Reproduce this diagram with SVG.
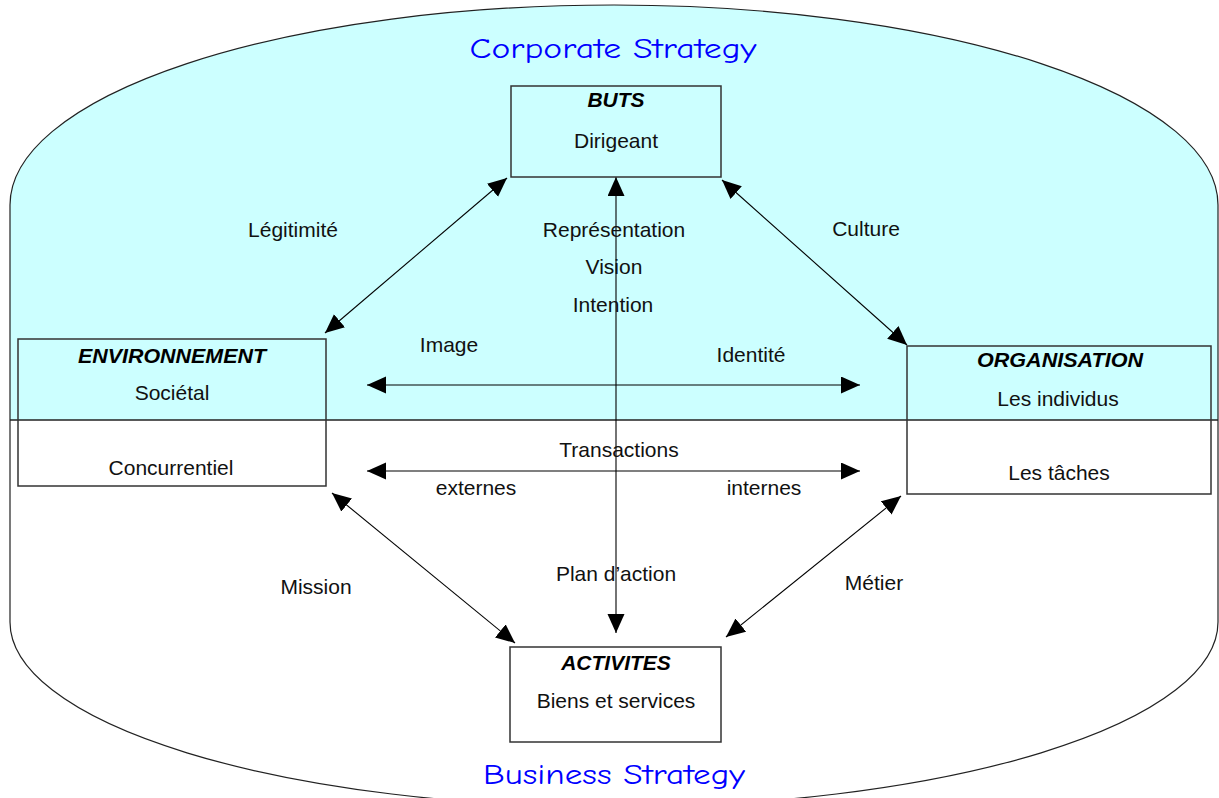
<svg xmlns="http://www.w3.org/2000/svg" width="1219" height="798" viewBox="0 0 1219 798">
<style>
.lbl{font-family:"Liberation Sans",Arial,sans-serif;font-size:21px;fill:#111;text-anchor:middle}
.hd{font-family:"Liberation Sans",Arial,sans-serif;font-size:21px;font-weight:bold;font-style:italic;fill:#000;text-anchor:middle}
.ttl{font-family:"Comic Sans MS","Comic Neue","DejaVu Sans",sans-serif;font-size:28px;fill:#0000ff;text-anchor:middle}
.box{fill:none;stroke:#333;stroke-width:1.5}
.con{stroke:#000;stroke-width:1.1;fill:none;marker-start:url(#ah);marker-end:url(#ah)}
</style>
<defs>
<marker id="ah" markerUnits="userSpaceOnUse" markerWidth="20" markerHeight="18" refX="19" refY="8.5" orient="auto-start-reverse">
<path d="M0,0 L19,8.5 L0,17 Z" fill="#000"/>
</marker>
</defs>
<rect width="1219" height="798" fill="#fff"/>
<g id="background">
<path d="M10,420 L10,205 A604,200 0 0 1 1218,205 L1218,420 Z" fill="#ccffff"/>
<path d="M10,205 A604,200 0 0 1 1218,205 L1218,622 A604,185 0 0 1 10,622 Z" fill="none" stroke="#222" stroke-width="1.2"/>
<line x1="10" y1="420" x2="1218" y2="420" stroke="#222" stroke-width="1.5"/>
<text class="ttl" x="613" y="58" textLength="287" lengthAdjust="spacingAndGlyphs">Corporate Strategy</text>
<text class="ttl" x="614" y="784" textLength="262" lengthAdjust="spacingAndGlyphs">Business Strategy</text>
</g>
<g id="connectors">
<line class="con" x1="507" y1="178" x2="325" y2="333"/>
<line class="con" x1="722" y1="180" x2="907" y2="345"/>
<line class="con" x1="616" y1="177" x2="616" y2="633"/>
<line class="con" x1="367" y1="385" x2="860" y2="385"/>
<line class="con" x1="367" y1="471" x2="860" y2="471"/>
<line class="con" x1="332" y1="493" x2="515" y2="643"/>
<line class="con" x1="901" y1="496" x2="726" y2="637"/>
<text class="lbl" x="293" y="237">Légitimité</text>
<text class="lbl" x="614" y="237">Représentation</text>
<text class="lbl" x="614" y="274">Vision</text>
<text class="lbl" x="613" y="312">Intention</text>
<text class="lbl" x="866" y="236">Culture</text>
<text class="lbl" x="449" y="352">Image</text>
<text class="lbl" x="751" y="362">Identité</text>
<text class="lbl" x="619" y="457">Transactions</text>
<text class="lbl" x="476" y="495">externes</text>
<text class="lbl" x="764" y="495">internes</text>
<text class="lbl" x="316" y="594">Mission</text>
<text class="lbl" x="616" y="581">Plan d’action</text>
<text class="lbl" x="874" y="590">Métier</text>
</g>
<g id="buts">
<rect class="box" x="511" y="86" width="210" height="91"/>
<text class="hd" x="616" y="107">BUTS</text>
<text class="lbl" x="616" y="148">Dirigeant</text>
</g>
<g id="environnement">
<rect class="box" x="18" y="339" width="308" height="147"/>
<text class="hd" x="172" y="363" textLength="188" lengthAdjust="spacingAndGlyphs">ENVIRONNEMENT</text>
<text class="lbl" x="172" y="400">Sociétal</text>
<text class="lbl" x="171" y="475">Concurrentiel</text>
</g>
<g id="organisation">
<rect class="box" x="907" y="346" width="304" height="148"/>
<text class="hd" x="1060" y="367" textLength="166" lengthAdjust="spacingAndGlyphs">ORGANISATION</text>
<text class="lbl" x="1058" y="406">Les individus</text>
<text class="lbl" x="1059" y="480">Les tâches</text>
</g>
<g id="activites">
<rect class="box" x="510" y="647" width="211" height="95"/>
<text class="hd" x="616" y="670">ACTIVITES</text>
<text class="lbl" x="616" y="708">Biens et services</text>
</g>
</svg>
